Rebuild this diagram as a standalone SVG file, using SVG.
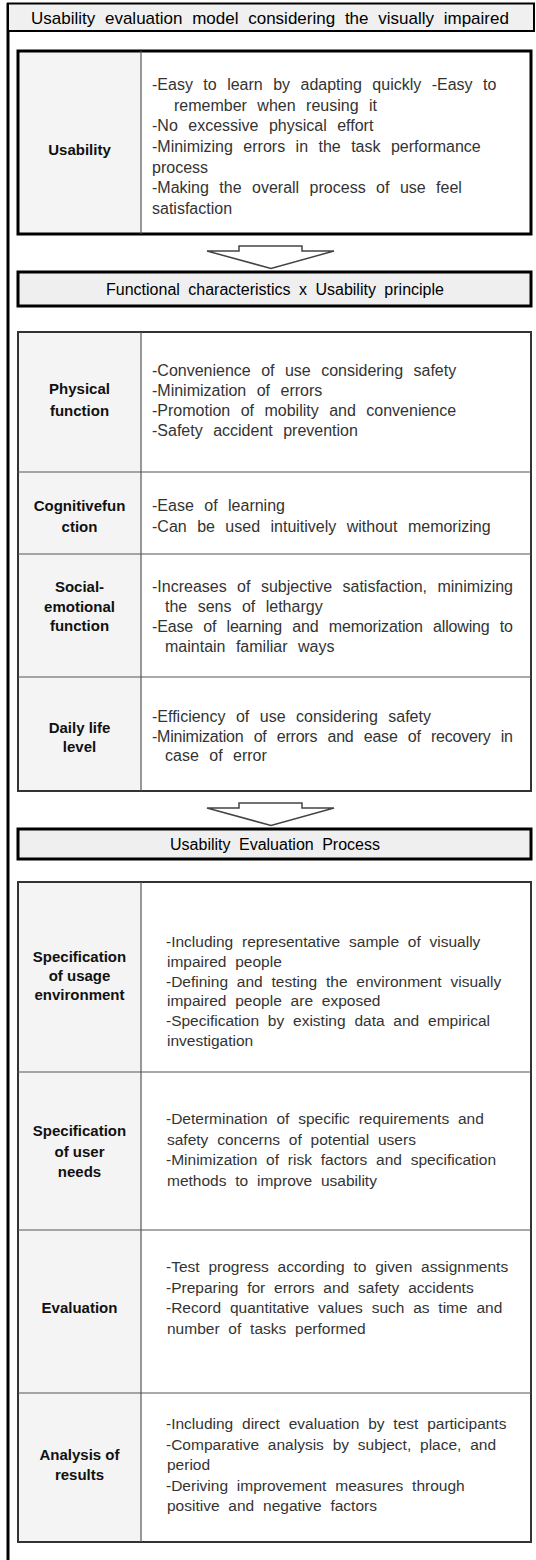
<svg xmlns="http://www.w3.org/2000/svg" width="536" height="1560" viewBox="0 0 536 1560">
<style>
.frame{fill:none;stroke:#000;stroke-width:3}
.tbar{fill:#f0f0f0;stroke:#000;stroke-width:2}
.bar{fill:#efefef;stroke:#000;stroke-width:3}
.box{fill:none;stroke:#000;stroke-width:3}
.tbl{fill:none;stroke:#333;stroke-width:2}
.labbg{fill:#f4f4f4}
.div{stroke:#555;stroke-width:1.2;fill:none}
.arrow{fill:#fff;stroke:#444;stroke-width:1.5}
text{font-family:"Liberation Sans",Arial,sans-serif}
.ttl{font-size:17px;fill:#000;word-spacing:5px}
.hdr{font-size:16px;fill:#000;word-spacing:4px;text-anchor:middle}
.lab{font-size:15px;font-weight:bold;fill:#111;text-anchor:middle}
.txt{font-size:16px;fill:#333;word-spacing:6px}
.txp{font-size:15.5px;fill:#333;word-spacing:4.5px}
</style>
<rect width="536" height="1560" fill="#fff"/>
<g id="frame">
<line class="frame" x1="8" y1="3" x2="8" y2="1560"/>
<rect class="tbar" x="8" y="3.5" width="526" height="27.5"/>
<text class="ttl" x="31" y="23.5">Usability evaluation model considering the visually impaired</text>
</g>
<g id="usability">
<rect class="labbg" x="18" y="51" width="123" height="183"/>
<rect class="box" x="18" y="51" width="513" height="183"/>
<line class="div" x1="141" y1="51" x2="141" y2="234"/>
<text class="lab" x="79.5" y="155">Usability</text>
<text class="txt" x="152" y="90">-Easy to learn by adapting quickly -Easy to</text>
<text class="txt" x="174" y="110.7">remember when reusing it</text>
<text class="txt" x="152" y="131.3">-No excessive physical effort</text>
<text class="txt" x="152" y="152">-Minimizing errors in the task performance</text>
<text class="txt" x="152" y="172.7">process</text>
<text class="txt" x="152" y="193.3">-Making the overall process of use feel</text>
<text class="txt" x="152" y="214">satisfaction</text>
</g>
<g id="connectors">
<polygon class="arrow" points="239,246 302,246 302,251 334,251 271,268.5 207,251 239,251"/>
<polygon class="arrow" points="239,803 302,803 302,808 334,808 271,825.5 207,808 239,808"/>
</g>
<g id="functional-header">
<rect class="bar" x="18" y="272" width="513" height="34"/>
<text class="hdr" x="275" y="294.5">Functional characteristics x Usability principle</text>
</g>
<g id="functional-table">
<rect class="labbg" x="18" y="332" width="123" height="459"/>
<rect class="tbl" x="18" y="332" width="513" height="459"/>
<line class="div" x1="141" y1="332" x2="141" y2="791"/>
<line class="div" x1="18" y1="472" x2="531" y2="472"/>
<line class="div" x1="18" y1="554" x2="531" y2="554"/>
<line class="div" x1="18" y1="677" x2="531" y2="677"/>
<g id="physical">
<text class="lab" x="79.5" y="393.5">Physical</text>
<text class="lab" x="79.5" y="416">function</text>
<text class="txt" x="152" y="376">-Convenience of use considering safety</text>
<text class="txt" x="152" y="396">-Minimization of errors</text>
<text class="txt" x="152" y="416">-Promotion of mobility and convenience</text>
<text class="txt" x="152" y="436">-Safety accident prevention</text>
</g>
<g id="cognitive">
<text class="lab" x="79.5" y="511">Cognitivefun</text>
<text class="lab" x="79.5" y="532">ction</text>
<text class="txt" x="152" y="511">-Ease of learning</text>
<text class="txt" x="152" y="532">-Can be used intuitively without memorizing</text>
</g>
<g id="social">
<text class="lab" x="79.5" y="592">Social-</text>
<text class="lab" x="79.5" y="611.5">emotional</text>
<text class="lab" x="79.5" y="631">function</text>
<text class="txt" x="152" y="592" textLength="361" lengthAdjust="spacing">-Increases of subjective satisfaction, minimizing</text>
<text class="txt" x="165" y="612">the sens of lethargy</text>
<text class="txt" x="152" y="632" textLength="361" lengthAdjust="spacing">-Ease of learning and memorization allowing to</text>
<text class="txt" x="165" y="652">maintain familiar ways</text>
</g>
<g id="daily">
<text class="lab" x="79.5" y="733">Daily life</text>
<text class="lab" x="79.5" y="752">level</text>
<text class="txt" x="152" y="722">-Efficiency of use considering safety</text>
<text class="txt" x="152" y="741.5" textLength="361" lengthAdjust="spacing">-Minimization of errors and ease of recovery in</text>
<text class="txt" x="165" y="761">case of error</text>
</g>
</g>
<g id="process-header">
<rect class="bar" x="18" y="829" width="513" height="30"/>
<text class="hdr" x="275" y="849.5">Usability Evaluation Process</text>
</g>
<g id="process-table">
<rect class="labbg" x="18" y="882" width="123" height="660"/>
<rect class="tbl" x="18" y="882" width="513" height="660"/>
<line class="div" x1="141" y1="882" x2="141" y2="1542"/>
<line class="div" x1="18" y1="1072" x2="531" y2="1072"/>
<line class="div" x1="18" y1="1230" x2="531" y2="1230"/>
<line class="div" x1="18" y1="1393" x2="531" y2="1393"/>
<g id="usage-environment">
<text class="lab" x="79.5" y="962">Specification</text>
<text class="lab" x="79.5" y="981">of usage</text>
<text class="lab" x="79.5" y="1000">environment</text>
<text class="txp" x="166" y="947">-Including representative sample of visually</text>
<text class="txp" x="167" y="966.8">impaired people</text>
<text class="txp" x="166" y="986.6">-Defining and testing the environment visually</text>
<text class="txp" x="167" y="1006.4">impaired people are exposed</text>
<text class="txp" x="166" y="1026.2">-Specification by existing data and empirical</text>
<text class="txp" x="167" y="1046">investigation</text>
</g>
<g id="user-needs">
<text class="lab" x="79.5" y="1136">Specification</text>
<text class="lab" x="79.5" y="1157">of user</text>
<text class="lab" x="79.5" y="1177">needs</text>
<text class="txp" x="166" y="1124">-Determination of specific requirements and</text>
<text class="txp" x="167" y="1144.5">safety concerns of potential users</text>
<text class="txp" x="166" y="1165">-Minimization of risk factors and specification</text>
<text class="txp" x="167" y="1185.5">methods to improve usability</text>
</g>
<g id="evaluation">
<text class="lab" x="79.5" y="1313">Evaluation</text>
<text class="txp" x="166" y="1272">-Test progress according to given assignments</text>
<text class="txp" x="166" y="1293">-Preparing for errors and safety accidents</text>
<text class="txp" x="166" y="1313">-Record quantitative values such as time and</text>
<text class="txp" x="167" y="1334">number of tasks performed</text>
</g>
<g id="analysis">
<text class="lab" x="79.5" y="1459.5">Analysis of</text>
<text class="lab" x="79.5" y="1480">results</text>
<text class="txp" x="166" y="1429">-Including direct evaluation by test participants</text>
<text class="txp" x="166" y="1449.5">-Comparative analysis by subject, place, and</text>
<text class="txp" x="167" y="1470">period</text>
<text class="txp" x="166" y="1490.5">-Deriving improvement measures through</text>
<text class="txp" x="167" y="1511">positive and negative factors</text>
</g>
</g>
</svg>
